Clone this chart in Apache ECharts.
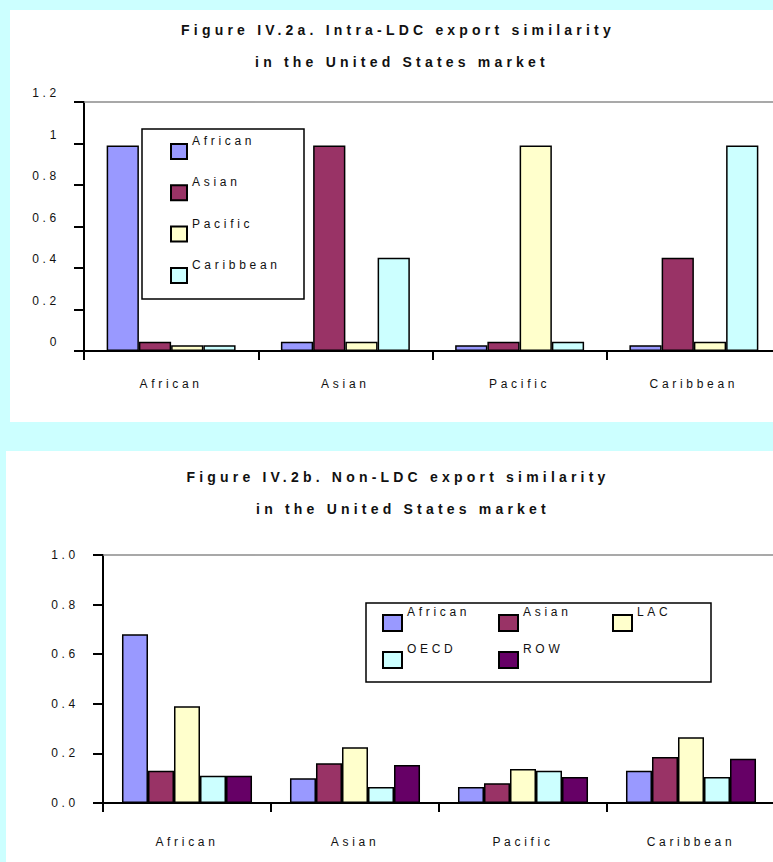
<!DOCTYPE html>
<html>
<head>
<meta charset="utf-8">
<title>Export similarity in the United States market</title>
<script src="https://cdn.jsdelivr.net/npm/echarts@6/dist/echarts.min.js"></script>
<style>
  html, body { margin: 0; padding: 0; width: 773px; height: 862px; overflow: hidden; background: #CCFFFF; }
  .panel { position: absolute; background: #FFFFFF; }
  #chartA { left: 10px; top: 10px; width: 776px; height: 412px; }
  #chartB { left: 6px; top: 451px; width: 780px; height: 420px; }
  /* spaced-out lettering of the figure texts */
  svg text { letter-spacing: 3.7px; }
  svg text[style*="bold"] { letter-spacing: 4.2px; }
</style>
</head>
<body>
<div id="chartA" class="panel"></div>
<div id="chartB" class="panel"></div>
<script>
// ---- Figure IV.2a: intra-LDC export similarity ----
const ldcCategories = ['African', 'Asian', 'Pacific', 'Caribbean'];
const ldcSeriesNames = ['African', 'Asian', 'Pacific', 'Caribbean'];
const ldcAfrican   = [0.99, 0.045, 0.028, 0.028];
const ldcAsian     = [0.045, 0.99, 0.045, 0.45];
const ldcPacific   = [0.028, 0.045, 0.99, 0.045];
const ldcCaribbean = [0.028, 0.45, 0.045, 0.99];
const ldcTitle = ['Figure IV.2a. Intra-LDC export similarity', 'in the United States market'];

// ---- Figure IV.2b: non-LDC export similarity ----
const nonCategories = ['African', 'Asian', 'Pacific', 'Caribbean'];
const nonSeriesNames = ['African', 'Asian', 'LAC', 'OECD', 'ROW'];
const nonAfrican = [0.68, 0.10, 0.065, 0.13];
const nonAsian   = [0.13, 0.16, 0.08, 0.185];
const nonLAC     = [0.39, 0.225, 0.137, 0.265];
const nonOECD    = [0.11, 0.065, 0.13, 0.105];
const nonROW     = [0.11, 0.153, 0.105, 0.178];
const nonTitle = ['Figure IV.2b. Non-LDC export similarity', 'in the United States market'];

const FONT = '"Liberation Sans Narrow", "Arial Narrow", "Liberation Sans", Arial, sans-serif';
const INK = '#111111';

function barSeries(name, data, color, gap) {
  return {
    type: 'bar', name: name, data: data,
    barGap: '0%', barCategoryGap: gap,
    itemStyle: { color: color, borderColor: '#000000', borderWidth: 1.5 },
    emphasis: { disabled: true },
    animation: false
  };
}

function titleTexts(lines, xs, ys) {
  return lines.map(function (t, i) {
    return {
      type: 'text', x: xs[i], y: ys[i], silent: true,
      style: { text: t, align: 'center', verticalAlign: 'middle',
               fontFamily: FONT, fontSize: 14, fontWeight: 'bold', fill: INK }
    };
  });
}

// legend labels sit above the level of their swatches
function legendColumn(names, left, top, gap, w, h, shift) {
  return {
    orient: 'vertical', left: left, top: top, padding: 0,
    itemGap: gap, itemWidth: w, itemHeight: h, icon: 'rect',
    selectedMode: false, data: names,
    formatter: function (name) { return '{t|' + name + '}'; },
    textStyle: {
      fontFamily: FONT, fontSize: 12, color: INK,
      rich: { t: { fontFamily: FONT, fontSize: 12, color: INK, padding: [0, 0, shift, 0] } }
    }
  };
}

function valueAxis(max, fmt, raised) {
  const label = { margin: 24, fontFamily: FONT, fontSize: 12, color: INK, formatter: fmt };
  if (raised) { label.verticalAlign = 'bottom'; label.lineHeight = 18; }
  return {
    type: 'value', min: 0, max: max, interval: 0.2,
    axisLine: { show: true, lineStyle: { color: '#000', width: 2 } },
    axisTick: { show: true, length: 10, lineStyle: { color: '#000', width: 2 } },
    splitLine: { show: false },
    axisLabel: label
  };
}

function categoryAxes(cats, margin) {
  return [{
    type: 'category', data: cats, position: 'bottom',
    axisLine: { lineStyle: { color: '#000', width: 2 } },
    axisTick: { show: true, length: 9, alignWithLabel: false, lineStyle: { color: '#000', width: 2 } },
    axisLabel: { margin: margin, fontFamily: FONT, fontSize: 12, color: INK }
  }, {
    // plot-area frame line along the maximum value
    type: 'category', data: cats, position: 'top',
    axisLine: { lineStyle: { color: '#8c8c8c', width: 1.5 } },
    axisTick: { show: false }, axisLabel: { show: false }
  }];
}

// ---------- chart A ----------
const chartA = echarts.init(document.getElementById('chartA'), null, { renderer: 'svg' });
const colorsA = ['#9999FF', '#993366', '#FFFFCC', '#CCFFFF'];
const valuesA = [ldcAfrican, ldcAsian, ldcPacific, ldcCaribbean];
chartA.setOption({
  animation: false,
  grid: { left: 74, top: 92, width: 697, height: 249 },
  xAxis: categoryAxes(ldcCategories, 27),
  yAxis: valueAxis(1.2, null, true),
  legend: legendColumn(ldcSeriesNames, 160, 125, 16.3, 16, 15, 21),
  series: ldcSeriesNames.map(function (n, i) { return barSeries(n, valuesA[i], colorsA[i], '26%'); }),
  graphic: [{
    type: 'rect', silent: true, z: -1,
    shape: { x: 132, y: 119, width: 162, height: 170 },
    style: { fill: '#FFFFFF', stroke: '#000000', lineWidth: 1.5 }
  }].concat(titleTexts(ldcTitle, [388, 392], [20, 52]))
});

// ---------- chart B ----------
const chartB = echarts.init(document.getElementById('chartB'), null, { renderer: 'svg' });
const colorsB = ['#9999FF', '#993366', '#FFFFCC', '#CCFFFF', '#660066'];
const valuesB = [nonAfrican, nonAsian, nonLAC, nonOECD, nonROW];
chartB.setOption({
  animation: false,
  grid: { left: 97, top: 104, width: 672, height: 248 },
  xAxis: categoryAxes(nonCategories, 33),
  yAxis: valueAxis(1.0, function (v) { return v.toFixed(1); }, false),
  legend: [
    legendColumn([nonSeriesNames[0], nonSeriesNames[3]], 376, 155, 11, 19, 16, 22),
    legendColumn([nonSeriesNames[1], nonSeriesNames[4]], 492, 155, 11, 19, 16, 22),
    legendColumn([nonSeriesNames[2]], 606, 155, 11, 19, 16, 22)
  ],
  series: nonSeriesNames.map(function (n, i) { return barSeries(n, valuesB[i], colorsB[i], '22.6%'); }),
  graphic: [{
    type: 'rect', silent: true, z: -1,
    shape: { x: 360, y: 152, width: 345, height: 79 },
    style: { fill: '#FFFFFF', stroke: '#000000', lineWidth: 1.5 }
  }].concat(titleTexts(nonTitle, [392, 397], [26, 58]))
});
</script>
</body>
</html>
